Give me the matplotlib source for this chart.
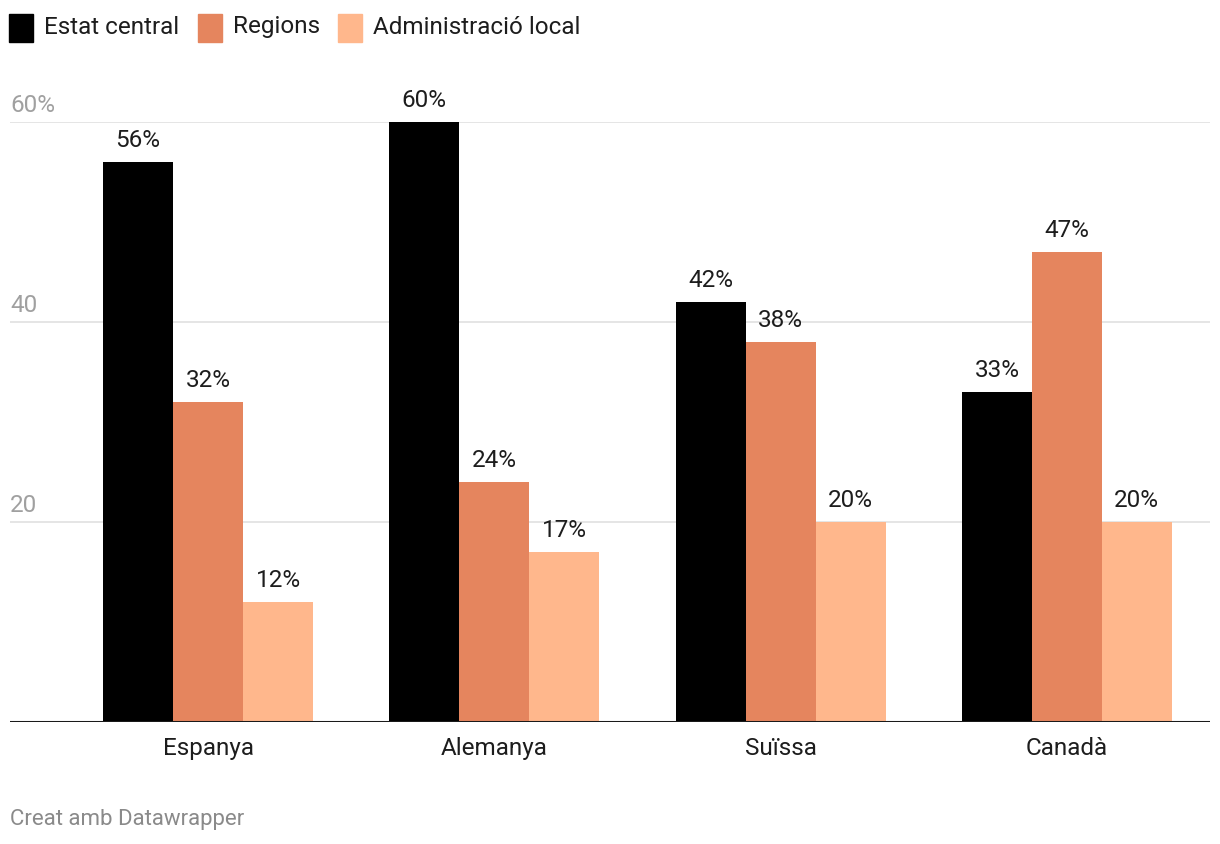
import matplotlib.pyplot as plt
from matplotlib.patches import Rectangle
import numpy as np

plt.rcParams['font.family'] = ['Roboto', 'DejaVu Sans']

countries = ['Espanya', 'Alemanya', 'Suïssa', 'Canadà']
series = ['Estat central', 'Regions', 'Administració local']
estat = [56, 60, 42, 33]
regions = [32, 24, 38, 47]
local = [12, 17, 20, 20]
colors = ['#000000', '#e5855e', '#ffb78c']
yticks = [20, 40, 60]
ytick_labels = ['20', '40', '60%']

W, H = 1220, 844
fig = plt.figure(figsize=(W / 100, H / 100), dpi=100)
ax = fig.add_axes([10 / W, 122 / H, 1200 / W, 600 / H])

fs = 17.5
x = np.arange(len(countries))
bw = 0.2445
for i, (vals, c) in enumerate(zip([estat, regions, local], colors)):
    pos = x + (i - 1) * bw
    ax.bar(pos, vals, width=bw, color=c, zorder=3)
    for p, v in zip(pos, vals):
        ax.annotate(f'{v}%', (p, v), xytext=(0, 7.5), textcoords='offset points',
                    ha='center', va='bottom', fontsize=fs, color='#1d1d1d')

ax.set_xlim(-0.692, 3.5)
ax.set_ylim(0, 60)
for t, lab in zip(yticks, ytick_labels):
    ax.axhline(t, color='#e3e3e3', lw=1.3, zorder=1)
    ax.annotate(lab, (0, t), xycoords=('axes fraction', 'data'), xytext=(0, 3.8),
                textcoords='offset points', ha='left', va='bottom',
                fontsize=fs, color='#a0a0a0', annotation_clip=False)
ax.axhline(0, color='#1a1a1a', lw=2.2, zorder=4)

ax.set_yticks([])
ax.set_xticks(x)
ax.set_xticklabels(countries, fontsize=fs, color='#1d1d1d')
ax.tick_params(axis='x', length=0, pad=10.5)
for s in ax.spines.values():
    s.set_visible(False)

# legend
lx = [9, 198, 338]
for xx, c, name in zip(lx, colors, series):
    fig.patches.append(Rectangle((xx / W, 1 - 42 / H), 24 / W, 28 / H,
                                 transform=fig.transFigure, color=c))
    fig.text((xx + 35) / W, 1 - 27 / H, name, fontsize=fs, color='#1d1d1d',
             va='center', ha='left')

fig.text(10 / W, 1 - 819 / H, 'Creat amb Datawrapper', fontsize=16,
         color='#8a8a8a', va='center', ha='left')

fig.savefig('out.png', dpi=100)
